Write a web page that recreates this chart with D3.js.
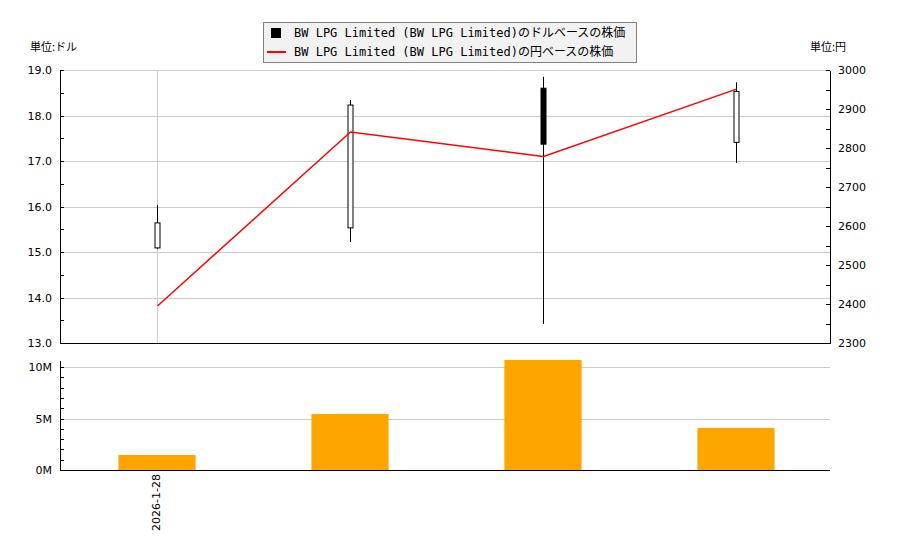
<!DOCTYPE html>
<html lang="ja">
<head>
<meta charset="utf-8">
<script src="https://d3js.org/d3.v7.min.js"></script>
<style>
body { margin: 0; background: #fff; }
svg { display: block; }
.axis text { font: 11px "DejaVu Sans", sans-serif; fill: #000; }
.axis path, .axis line { stroke: #000; shape-rendering: crispEdges; }
.grid line { stroke: #cccccc; shape-rendering: crispEdges; }
.grid path { display: none; }
.unit { font: 11px "Noto Sans CJK JP", sans-serif; }
.legend text { font: 12px "DejaVu Sans Mono", "Noto Sans CJK JP", monospace; }
</style>
</head>
<body>
<script>
// data
var dates = ["2026-1-28", "2026-2-4", "2026-2-11", "2026-2-18"];
var tickLabels = ["2026-1-28", "", "", ""];
var open  = [15.09, 15.53, 18.60, 17.41];
var close = [15.64, 18.23, 17.37, 18.53];
var high  = [16.03, 18.34, 18.85, 18.73];
var low   = [15.07, 15.22, 13.42, 16.96];
var yen   = [2395, 2841, 2778, 2951];
var volume = [1.46e6, 5.44e6, 10.68e6, 4.09e6];

var legendNames = ["BW LPG Limited (BW LPG Limited)のドルベースの株価",
                   "BW LPG Limited (BW LPG Limited)の円ベースの株価"];

var W = 900, H = 550;
var left = 60, right = 830;
var top1 = 70, bot1 = 343;
var top2 = 360, bot2 = 470;

var svg = d3.select("body").append("svg")
    .attr("width", W)
    .attr("height", H);

var x = d3.scaleBand().domain(dates).range([left, right + 2]).padding(0);
var yL = d3.scaleLinear().domain([13, 19]).range([bot1, top1]);
var yR = d3.scaleLinear().domain([2300, 3000]).range([bot1, top1]);
var yV = d3.scaleLinear().domain([0, d3.max(volume)]).range([bot2, top2]);

function cx(d) { return Math.round(x(d) + x.bandwidth() / 2) + 0.5; }

// grid lines for the price panel
svg.append("g").attr("class", "grid")
  .attr("transform", "translate(" + left + ",0)")
  .call(d3.axisRight(yL).tickValues(d3.range(13, 19.01, 1)).tickSize(right - left).tickFormat(""));
svg.append("g").attr("class", "grid")
  .selectAll("line").data([dates[0]]).enter().append("line")
  .attr("x1", cx).attr("x2", cx)
  .attr("y1", top1).attr("y2", bot1);

// volume grid
svg.append("g").attr("class", "grid")
  .attr("transform", "translate(" + left + ",0)")
  .call(d3.axisRight(yV).tickValues([5e6, 10e6]).tickSize(right - left).tickFormat(""));

// volume bars
svg.append("g").selectAll("rect")
  .data(dates).enter().append("rect")
  .attr("x", function(d) { return cx(d) - 0.5 - x.bandwidth() * 0.2; })
  .attr("width", x.bandwidth() * 0.4)
  .attr("y", function(d, i) { return yV(volume[i]); })
  .attr("height", function(d, i) { return bot2 - yV(volume[i]); })
  .attr("fill", "#ffa500");

// candles
var candle = svg.append("g").selectAll("g")
  .data(dates).enter().append("g");
candle.append("line")
  .attr("x1", cx).attr("x2", cx)
  .attr("y1", function(d, i) { return yL(high[i]); })
  .attr("y2", function(d, i) { return yL(low[i]); })
  .attr("stroke", "#000");
candle.append("rect")
  .attr("x", function(d) { return cx(d) - 2.5; })
  .attr("width", 5)
  .attr("y", function(d, i) { return yL(Math.max(open[i], close[i])); })
  .attr("height", function(d, i) { return Math.abs(yL(open[i]) - yL(close[i])); })
  .attr("fill", function(d, i) { return close[i] >= open[i] ? "#fff" : "#000"; })
  .attr("stroke", "#000");

// yen line
var line = d3.line()
  .x(function(d) { return cx(d); })
  .y(function(d, i) { return yR(yen[i]); });
svg.append("path")
  .datum(dates)
  .attr("d", line)
  .attr("fill", "none")
  .attr("stroke", "#ff0000")
  .attr("stroke-width", 1.5);

// axes - price panel
svg.append("g").attr("class", "axis")
  .attr("transform", "translate(" + left + ",0)")
  .call(d3.axisLeft(yL).tickValues(d3.range(13, 19.01, 0.5)).tickSize(-4).tickSizeOuter(0)
    .tickFormat(function(d) { return d % 1 === 0 ? d3.format(".1f")(d) : ""; }))
  .call(function(g) { g.selectAll("text").attr("x", -8); });
svg.append("g").attr("class", "axis")
  .attr("transform", "translate(" + right + ",0)")
  .call(d3.axisRight(yR).tickValues(d3.range(2300, 3001, 50)).tickSize(-4).tickSizeOuter(0)
    .tickFormat(function(d) { return d % 100 === 0 ? d : ""; }))
  .call(function(g) { g.selectAll("text").attr("x", 8); });
svg.append("line")
  .attr("x1", left).attr("x2", right)
  .attr("y1", bot1 + 0.5).attr("y2", bot1 + 0.5)
  .attr("stroke", "#000");

// axes - volume panel
svg.append("g").attr("class", "axis")
  .attr("transform", "translate(" + left + ",0)")
  .call(d3.axisLeft(yV).tickValues(d3.range(0, 10.1e6, 1e6)).tickSize(-4).tickSizeOuter(0)
    .tickFormat(function(d) { return d % 5e6 === 0 ? (d / 1e6) + "M" : ""; }))
  .call(function(g) { g.selectAll("text").attr("x", -8); });
svg.append("line")
  .attr("x1", left).attr("x2", right)
  .attr("y1", bot2 + 0.5).attr("y2", bot2 + 0.5)
  .attr("stroke", "#000");
var xAxis = svg.append("g").attr("class", "axis")
  .attr("transform", "translate(0," + bot2 + ")")
  .call(d3.axisBottom(x).tickSize(0).tickSizeOuter(0)
    .tickFormat(function(d, i) { return tickLabels[i]; }));
xAxis.select(".domain").remove();
xAxis.selectAll("text")
  .attr("transform", "rotate(-90)")
  .attr("text-anchor", "end")
  .attr("x", -4)
  .attr("y", 0)
  .attr("dy", "0.35em");

// unit labels
svg.append("text").attr("class", "unit")
  .attr("x", 30).attr("y", 51).text("単位:ドル");
svg.append("text").attr("class", "unit")
  .attr("x", 810).attr("y", 51).text("単位:円");

// legend
var legend = svg.append("g").attr("class", "legend");
legend.append("rect")
  .attr("x", 263.5).attr("y", 22.5)
  .attr("width", 373).attr("height", 40)
  .attr("fill", "#f2f2f2").attr("stroke", "#808080");
legend.append("rect")
  .attr("x", 271).attr("y", 28).attr("width", 10).attr("height", 10)
  .attr("fill", "#000");
legend.append("line")
  .attr("x1", 267).attr("x2", 286).attr("y1", 52).attr("y2", 52)
  .attr("stroke", "#ff0000").attr("stroke-width", 2);
legend.selectAll("text.name")
  .data(legendNames).enter().append("text")
  .attr("class", "name")
  .attr("x", 294)
  .attr("y", function(d, i) { return 37 + i * 19; })
  .text(function(d) { return d; });
</script>
</body>
</html>
